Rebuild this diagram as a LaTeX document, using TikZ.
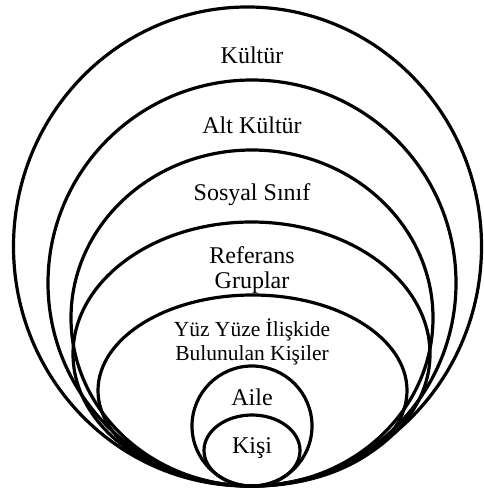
\documentclass[tikz,border=0pt]{standalone}
\usepackage{fontspec}
\setmainfont{Liberation Serif}

\begin{document}
\begin{tikzpicture}[x=1pt, y=-1pt, font=\fontsize{24}{24}\selectfont,
    ring/.style={line width=3.2pt},
    lbl/.style={align=center, inner sep=0pt}]
        \useasboundingbox (0,0) rectangle (483,489);
        \draw[ring] (247.5,246.5) ellipse (234 and 239.5);
        \draw[ring] (252,283) ellipse (204 and 203);
        \draw[ring] (252,318) ellipse (181 and 168);
        \draw[ring] (251.5,354) ellipse (178.5 and 132);
        \draw[ring] (252.5,390.5) ellipse (154.5 and 95.5);
        \draw[ring] (252,426) ellipse (60 and 60);
        \draw[ring] (252,450.5) ellipse (48 and 35.5);
        \node[lbl] (kultur) at (252,55) {Kültür};
        \node[lbl] (altkultur) at (252,125) {Alt Kültür};
        \node[lbl] (sinif) at (252,195) {Sosyal Sınıf};
        \node[lbl, font=\fontsize{24}{25}\selectfont] (referans) at (252,270) {Referans\\Gruplar};
        \node[lbl, font=\fontsize{21.5}{24}\selectfont] (yuzyuze) at (252,342) {Yüz Yüze İlişkide\\Bulunulan Kişiler};
        \node[lbl] (aile) at (252,397) {Aile};
        \node[lbl] (kisi) at (252,448) {Kişi};
    \end{tikzpicture}
\end{document}
